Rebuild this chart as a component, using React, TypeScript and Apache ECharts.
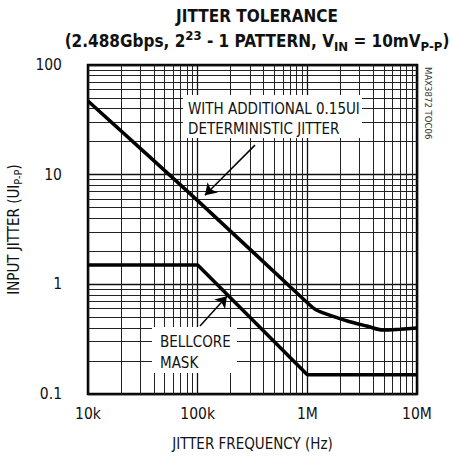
import React, { useEffect, useRef } from "react";
import * as echarts from "echarts";

// ---- data ----
const upperFreq = [10000, 100000, 1000000, 1220000, 1720000, 2440000, 3470000, 4900000, 7000000, 10000000];
const upperJitter = [47, 5.8, 0.68, 0.58, 0.51, 0.456, 0.417, 0.383, 0.39, 0.4];

const maskFreq = [10000, 100000, 1000000, 10000000];
const maskJitter = [1.5, 1.5, 0.15, 0.15];

const xTickValues = [10000, 100000, 1000000, 10000000];
const xTickLabels = ["10k", "100k", "1M", "10M"];
const yTickValues = [0.1, 1, 10, 100];
const yTickLabels = ["0.1", "1", "10", "100"];

const decadesX = [10000, 100000, 1000000];
const decadesY = [0.1, 1, 10];
const minorMultipliers = [2, 3, 4, 5, 6, 7, 8, 9];

// annotation arrows (data coordinates): [from, to]
const arrowUpper = [[333000, 18.6], [116600, 6.5]];
const arrowMask = [[105000, 0.417], [185000, 0.78]];

const NARROW = '"Liberation Sans Narrow", "DejaVu Sans Condensed", "Roboto Condensed", sans-serif';

export default function App() {
  const ref = useRef<HTMLDivElement>(null);
  useEffect(() => {
    document.body.style.margin = "0";
    const chart = echarts.init(ref.current!, null, { renderer: "svg" });

    const minorX: number[] = [];
    decadesX.forEach((d) => minorMultipliers.forEach((m) => minorX.push(d * m)));
    const minorY: number[] = [];
    decadesY.forEach((d) => minorMultipliers.forEach((m) => minorY.push(Math.round(d * m * 1000) / 1000)));

    const txt = "#111";

    chart.setOption({
      animation: false,
      title: [
        {
          text: "JITTER TOLERANCE",
          left: 252,
          top: 2,
          textAlign: "center",
          textStyle: { fontFamily: NARROW, fontWeight: "bold", fontSize: 17, color: txt },
        },
        {
          text: "(2.488Gbps, 2{sup|23} - 1 PATTERN, V{sub|IN} = 10mV{sub|P-P})",
          left: 252,
          top: 24,
          textAlign: "center",
          textStyle: {
            fontFamily: NARROW,
            fontWeight: "bold",
            fontSize: 17,
            lineHeight: 24,
            color: txt,
            rich: {
              sup: { fontFamily: NARROW, fontWeight: "bold", fontSize: 13, lineHeight: 13, verticalAlign: "top", color: txt },
              sub: { fontFamily: NARROW, fontWeight: "bold", fontSize: 13, lineHeight: 13, verticalAlign: "bottom", color: txt },
            },
          },
        },
      ],
      grid: {
        left: 88,
        top: 65,
        right: 35,
        bottom: 64,
        show: true,
        borderColor: "#000",
        borderWidth: 2.5,
        backgroundColor: "transparent",
        containLabel: false,
        outerBoundsMode: "none",
      },
      xAxis: {
        type: "log",
        logBase: 10,
        min: 10000,
        max: 10000000,
        name: "JITTER FREQUENCY (Hz)",
        nameLocation: "middle",
        nameGap: 42,
        nameTextStyle: { fontFamily: NARROW, fontSize: 15, color: txt },
        axisLine: { show: false },
        axisTick: { show: false },
        axisLabel: {
          fontFamily: NARROW,
          fontSize: 15.5,
          color: txt,
          margin: 12,
          formatter: (v: number) => {
            const i = xTickValues.findIndex((t) => Math.abs(Math.log10(t) - Math.log10(v)) < 1e-6);
            return i >= 0 ? xTickLabels[i] : "";
          },
        },
        splitLine: { show: true, lineStyle: { color: "#111", width: 1.3 } },
      },
      yAxis: {
        type: "log",
        logBase: 10,
        min: 0.1,
        max: 100,
        name: "INPUT JITTER (UI{sub|P-P})",
        nameLocation: "middle",
        nameGap: 64,
        nameTextStyle: {
          fontFamily: NARROW,
          fontSize: 15,
          lineHeight: 20,
          color: txt,
          rich: { sub: { fontFamily: NARROW, fontSize: 11, lineHeight: 11, verticalAlign: "bottom", color: txt } },
        },
        axisLine: { show: false },
        axisTick: { show: false },
        axisLabel: {
          fontFamily: NARROW,
          fontSize: 15.5,
          color: txt,
          margin: 26,
          formatter: (v: number) => {
            const i = yTickValues.findIndex((t) => Math.abs(Math.log10(t) - Math.log10(v)) < 1e-6);
            return i >= 0 ? yTickLabels[i] : "";
          },
        },
        splitLine: { show: true, lineStyle: { color: "#111", width: 1.3 } },
      },
      series: [
        {
          type: "line",
          data: [],
          z: 1,
          silent: true,
          markLine: {
            silent: true,
            symbol: "none",
            label: { show: false },
            lineStyle: { color: "#222", width: 1, type: "solid" },
            emphasis: { disabled: true },
            data: [...minorX.map((v) => ({ xAxis: v })), ...minorY.map((v) => ({ yAxis: v }))],
          },
        },
        {
          name: "with DJ",
          type: "line",
          data: upperFreq.map((f, i) => [f, upperJitter[i]]),
          showSymbol: false,
          smooth: 0.3,
          z: 5,
          lineStyle: { color: "#000", width: 3.5 },
        },
        {
          name: "Bellcore",
          type: "line",
          data: maskFreq.map((f, i) => [f, maskJitter[i]]),
          showSymbol: false,
          z: 5,
          lineStyle: { color: "#000", width: 3.5 },
        },
        {
          type: "line",
          data: [],
          z: 20,
          markLine: {
            silent: true,
            symbol: ["none", "arrow"],
            symbolSize: 11,
            label: { show: false },
            lineStyle: { color: "#000", width: 1.5, type: "solid" },
            data: [
              [{ coord: arrowUpper[0] }, { coord: arrowUpper[1] }],
              [{ coord: arrowMask[0] }, { coord: arrowMask[1] }],
            ],
          },
        },
      ],
      graphic: [
        { type: "rect", z: 50, shape: { x: 183, y: 95, width: 179, height: 43 }, style: { fill: "#fff" } },
        {
          type: "text",
          z: 51,
          x: 188,
          y: 99,
          style: {
            text: "WITH ADDITIONAL 0.15UI\nDETERMINISTIC JITTER",
            font: `15px ${NARROW}`,
            lineHeight: 20,
            fill: txt,
            textAlign: "left",
            textVerticalAlign: "top",
          },
        },
        { type: "rect", z: 50, shape: { x: 152, y: 327, width: 85, height: 46 }, style: { fill: "#fff" } },
        {
          type: "text",
          z: 51,
          x: 160,
          y: 331,
          style: {
            text: "BELLCORE\nMASK",
            font: `15px ${NARROW}`,
            lineHeight: 21,
            fill: txt,
            textAlign: "left",
            textVerticalAlign: "top",
          },
        },
        {
          type: "text",
          z: 51,
          x: 428,
          y: 67,
          rotation: -Math.PI / 2,
          style: {
            text: "MAX3872 TOC06",
            font: `9.5px ${NARROW}`,
            fill: "#333",
            textAlign: "left",
            textVerticalAlign: "middle",
          },
        },
      ],
    });
    return () => chart.dispose();
  }, []);
  return <div ref={ref} style={{ width: 452, height: 458 }} />;
}
